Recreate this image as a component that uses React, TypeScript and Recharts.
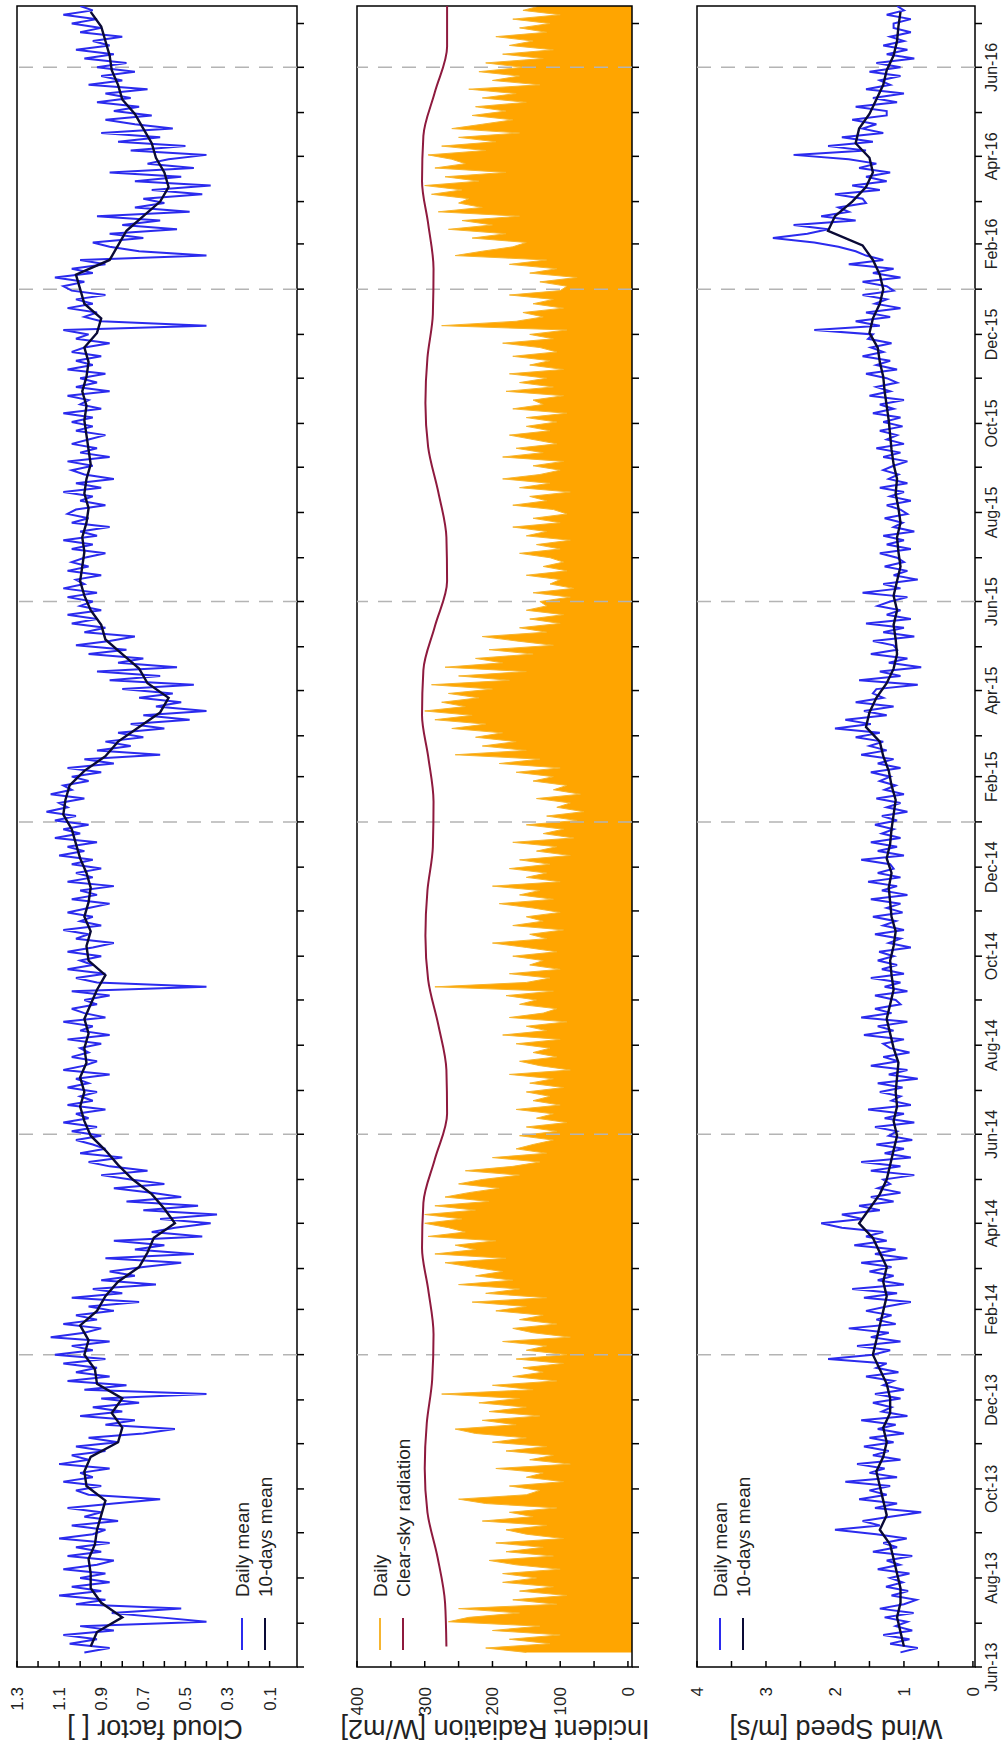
import React from "react";
import {
  ComposedChart,
  Line,
  Area,
  XAxis,
  YAxis,
  ReferenceLine,
  ReferenceArea,
} from "recharts";

// frame of the un-rotated figure (it is turned by 90 degrees at the end)
const W = 1758;
const H = 1004;
const DAY_END = 1138;
const PLOT_LEFT = 91;
const AXIS_W = 60;
const AXIS_H = 30;

// cloud factor, daily mean, one value every 3 days from 11 Jun 2013 (one row per month)
const cloudDaily = [
  0.98, 0.86, 1.05, 0.92, 1.08, 0.84, 1.0,
  0.4, 0.62, 0.85, 0.52, 1.02, 0.88, 1.1, 0.9, 1.04, 0.86,
  1.0, 0.88, 1.08, 0.92, 0.84, 1.06, 0.9, 1.02, 0.86, 1.1, 0.94,
  0.88, 1.04, 0.82, 0.98, 0.9, 1.06, 0.84, 0.62, 0.96, 1.02,
  0.9, 1.08, 0.94, 1.0, 0.86, 1.1, 0.96, 1.04, 0.88, 1.02,
  0.82, 0.96, 0.7, 0.55, 0.88, 0.74, 1.0, 0.8, 0.94, 0.72,
  0.9, 0.4, 0.98, 0.78, 1.06, 0.86, 1.02, 0.92, 1.08, 0.88,
  1.12, 0.94, 1.04, 0.86, 1.14, 0.98, 0.9, 1.08, 0.92, 1.02, 0.84,
  0.96, 0.72, 1.04, 0.8, 0.94, 0.64, 0.9, 0.74, 0.86,
  0.7, 0.52, 0.88, 0.46, 0.74, 0.6, 0.84, 0.42, 0.66, 0.55,
  0.38, 0.62, 0.35, 0.7, 0.44, 0.78, 0.52, 0.66, 0.84, 0.6,
  0.76, 0.9, 0.68, 0.86, 0.96, 0.8, 1.0, 0.88, 0.94, 1.02, 0.9,
  1.04, 0.92, 1.08, 0.96, 1.02, 0.88, 1.06, 0.94, 1.0, 0.92,
  1.06, 0.96, 1.02, 0.86, 1.08, 0.98, 0.92, 1.04, 0.96, 1.0,
  0.9, 1.06, 0.86, 1.0, 0.94, 1.08, 0.88, 0.98, 1.04, 0.92,
  0.98, 0.86, 1.04, 0.4, 0.92, 1.02, 0.88, 1.06, 0.94, 1.0,
  0.9, 1.06, 0.94, 0.84, 1.02, 0.96, 1.08, 0.9, 1.0, 0.94, 1.06,
  0.96, 0.86, 1.04, 0.92, 1.0, 0.84, 1.06, 0.94, 1.02, 0.9,
  1.04, 0.94, 1.1, 0.98, 1.06, 0.92, 1.12, 1.0, 1.08, 0.96,
  1.12, 1.02, 1.16, 1.06, 1.1, 0.98, 1.14, 1.04, 1.08, 0.96,
  1.04, 0.9, 1.06, 0.84, 0.98, 0.62, 0.92, 0.76, 0.88, 0.7,
  0.82, 0.6, 0.76, 0.48, 0.7, 0.4, 0.64, 0.52, 0.72, 0.56,
  0.8, 0.46, 0.86, 0.62, 0.92, 0.54, 0.82, 0.7, 0.96, 0.78,
  1.02, 0.86, 0.74, 0.98, 0.88, 1.04, 0.92, 1.06, 0.9, 1.0,
  0.94, 1.06, 0.92, 1.08, 0.98, 1.02, 0.9, 1.06, 0.96, 1.04,
  0.98, 0.88, 1.04, 0.94, 1.08, 0.92, 1.0, 0.86, 1.04, 0.96, 1.06,
  1.02, 0.88, 1.0, 0.94, 1.08, 0.9, 1.02, 0.84, 0.98, 1.04,
  0.94, 1.06, 0.86, 1.0, 0.92, 1.04, 0.96, 0.88, 1.02, 0.94,
  1.04, 0.94, 1.08, 0.9, 1.0, 0.96, 1.06, 0.86, 1.02, 0.92,
  1.0, 0.88, 1.06, 0.94, 1.02, 0.9, 1.04, 0.98, 0.86, 1.02,
  0.96, 1.08, 0.4, 0.9, 0.98, 0.92, 1.06, 0.94, 1.02, 0.88, 1.04,
  1.08, 0.98, 1.12, 0.94, 1.04, 0.88, 1.0, 0.4, 0.72, 0.86,
  0.94, 0.7, 0.86, 0.54, 0.8, 0.62, 0.92, 0.48, 0.74, 0.6,
  0.7, 0.42, 0.66, 0.38, 0.74, 0.52, 0.86, 0.46, 0.68, 0.58,
  0.4, 0.76, 0.5, 0.82, 0.62, 0.9, 0.56, 0.74, 0.88, 0.66,
  0.84, 0.72, 0.92, 0.76, 0.88, 0.68, 0.96, 0.8, 0.9, 0.74,
  0.92, 0.78, 0.98, 0.84, 1.02, 0.86, 0.94, 0.8, 1.0, 0.9,
  1.04, 0.92, 1.08, 0.94, 1.0,
];

// cloud factor, 10-days mean, one value every 10 days from 15 Jun 2013
const cloudMean = [
  0.95, 0.92,
  0.8, 0.9, 0.95,
  0.95, 0.96, 0.93,
  0.92, 0.9, 0.88,
  0.97, 0.98, 0.95,
  0.82, 0.8, 0.85,
  0.8, 0.92, 0.93,
  0.98, 0.96, 1.0, 0.92,
  0.88, 0.82,
  0.72, 0.68, 0.65,
  0.55, 0.6, 0.66,
  0.75, 0.82, 0.88, 0.95,
  0.98, 1.0, 0.98,
  1.0, 0.97, 0.98,
  0.96, 0.98, 0.95,
  0.92, 0.88, 0.96,
  0.97, 0.95, 0.98,
  0.96, 0.95, 0.97,
  1.0, 1.02, 1.04,
  1.08, 1.07, 1.05,
  0.98, 0.88, 0.82,
  0.72, 0.62, 0.58,
  0.68, 0.72, 0.8,
  0.88, 0.9, 0.95,
  0.98, 1.0, 0.99,
  0.98, 0.99, 0.97,
  0.96, 0.98, 0.97,
  0.95, 0.96, 0.97,
  0.98, 0.97, 0.99,
  0.97, 0.96, 0.98,
  0.92, 0.9, 0.98,
  1.0, 1.02, 0.86, 0.82,
  0.78, 0.7,
  0.62, 0.58, 0.6, 0.64,
  0.66, 0.7, 0.74,
  0.8, 0.82, 0.85,
  0.86, 0.88, 0.9,
  0.95,
];

// incident radiation [W/m2], daily, same 3-day steps as cloudDaily
const radDaily = [
  150, 210, 115, 175, 100, 200, 130,
  265, 235, 160, 250, 105, 170, 90, 160, 110, 185,
  135, 185, 100, 165, 205, 110, 180, 125, 195, 95, 150,
  180, 120, 215, 140, 175, 105, 210, 250, 150, 130,
  175, 95, 150, 125, 195, 85, 145, 110, 180, 120,
  200, 150, 225, 255, 165, 215, 130, 205, 150, 220,
  160, 275, 140, 200, 105, 170, 125, 155, 95, 165,
  90, 150, 120, 185, 85, 140, 170, 105, 160, 125, 195,
  150, 230, 120, 210, 160, 250, 170, 225, 185,
  230, 270, 180, 285, 225, 255, 195, 295, 240, 265,
  300, 245, 300, 225, 285, 205, 270, 235, 190, 250,
  215, 160, 240, 170, 130, 200, 120, 165, 140, 110, 160,
  105, 150, 90, 135, 110, 165, 100, 140, 115, 150,
  95, 145, 110, 175, 85, 130, 160, 105, 140, 115,
  165, 100, 185, 120, 150, 90, 175, 125, 105, 160,
  135, 180, 110, 285, 150, 115, 175, 100, 145, 125,
  170, 105, 150, 200, 120, 145, 95, 170, 125, 150, 100,
  140, 190, 110, 160, 130, 200, 100, 150, 120, 175,
  115, 160, 85, 135, 105, 170, 80, 125, 95, 150,
  75, 120, 65, 105, 85, 135, 70, 110, 90, 140,
  110, 165, 100, 190, 130, 255, 150, 215, 165, 225,
  185, 260, 210, 285, 230, 300, 240, 275, 220, 265,
  200, 290, 175, 250, 150, 270, 185, 225, 140, 205,
  110, 165, 215, 120, 160, 100, 145, 95, 150, 120,
  130, 85, 140, 80, 115, 100, 150, 90, 125, 95,
  115, 160, 100, 135, 85, 150, 120, 170, 100, 140, 90,
  110, 170, 120, 145, 85, 160, 115, 185, 130, 100,
  140, 95, 185, 125, 165, 105, 140, 175, 115, 150,
  105, 150, 90, 170, 125, 140, 95, 180, 110, 160,
  120, 175, 95, 145, 115, 170, 105, 130, 185, 110,
  145, 90, 275, 165, 125, 155, 95, 140, 110, 175, 100,
  90, 130, 75, 145, 105, 175, 120, 255, 215, 170,
  150, 230, 180, 265, 200, 245, 160, 280, 215, 250,
  235, 290, 245, 300, 220, 270, 180, 285, 240, 260,
  295, 210, 275, 195, 250, 160, 260, 215, 170, 230,
  180, 225, 150, 215, 165, 235, 130, 200, 160, 220,
  155, 210, 125, 185, 110, 175, 140, 195, 120, 160,
  115, 170, 100, 155, 130,
];

// clear-sky radiation [W/m2], mid-month values from Jun 2013
const clearSky = [
  268, 270, 281, 296, 300, 297, 289, 287, 295, 304, 302, 285,
  267, 268, 280, 295, 299, 296, 288, 287, 295, 304, 302, 285,
  267, 268, 280, 295, 299, 296, 288, 287, 295, 304, 302, 285,
  267, 267,
];

// wind speed [m/s], daily mean, same 3-day steps
const windDaily = [
  1.05, 0.8, 1.2, 0.92, 1.3, 0.88, 1.12,
  0.95, 1.28, 0.86, 1.35, 1.0, 0.82, 1.18, 0.94, 1.26, 1.02,
  1.2, 0.92, 1.38, 1.06, 1.25, 0.88, 1.45, 1.1, 1.3, 0.96, 1.4,
  2.0, 1.35, 1.6, 1.2, 0.75, 1.42, 1.1, 1.65, 1.25, 1.5,
  1.2, 1.85, 1.1, 1.5, 1.28, 1.68, 1.05, 1.45, 1.22, 1.58,
  1.15, 1.5, 1.0, 1.38, 1.12, 1.62, 0.95, 1.32, 1.18, 1.45,
  1.05, 1.42, 1.0, 1.3, 1.15, 1.55, 1.08, 1.4, 1.25, 2.1,
  1.45, 1.2, 1.68, 1.05, 1.48, 1.22, 1.8, 1.12, 1.4, 1.18, 1.55,
  1.25, 0.9, 1.58, 1.1, 1.75, 1.0, 1.38, 1.15, 1.5,
  1.18, 1.62, 0.95, 1.42, 1.12, 1.72, 1.25, 1.55, 1.3, 1.9,
  2.2, 1.6, 1.9, 1.35, 1.65, 1.15, 1.48, 1.05, 1.38, 1.2,
  1.3, 0.85, 1.48, 1.05, 1.62, 0.9, 1.28, 1.0, 1.4, 0.88, 1.22,
  1.1, 1.42, 0.85, 1.28, 1.0, 1.52, 0.9, 1.18, 1.05, 1.35,
  1.02, 1.38, 0.8, 1.22, 0.95, 1.48, 1.08, 1.3, 0.92, 1.2,
  1.3, 1.0, 1.58, 1.15, 1.38, 0.95, 1.62, 1.18, 1.42, 1.05,
  1.12, 1.42, 0.95, 1.28, 1.05, 1.48, 1.0, 1.32, 1.1, 1.38,
  1.15, 1.36, 0.9, 1.22, 1.05, 1.42, 1.0, 1.3, 1.12, 1.45, 1.02,
  1.25, 1.05, 1.48, 0.95, 1.32, 1.1, 1.52, 1.05, 1.38, 1.15,
  1.2, 1.62, 1.0, 1.38, 1.1, 1.48, 1.05, 1.32, 1.15, 1.42,
  1.1, 1.32, 0.95, 1.25, 1.05, 1.4, 1.0, 1.28, 1.12, 1.35,
  1.2, 1.48, 1.05, 1.38, 1.15, 1.62, 1.25, 1.5, 1.3, 1.7,
  1.35, 2.0, 1.48, 1.85, 1.25, 1.58, 1.15, 1.7, 1.3, 1.45,
  1.4, 0.8, 1.65, 1.05, 1.35, 0.75, 1.22, 0.95, 1.48, 1.1,
  1.15, 1.45, 0.85, 1.3, 1.0, 1.55, 0.9, 1.25, 1.05, 1.38,
  1.2, 0.95, 1.6, 1.05, 1.3, 0.8, 1.15, 0.95, 1.28, 1.0,
  1.1, 1.35, 0.9, 1.25, 1.0, 1.3, 0.85, 1.15, 1.02, 1.28, 0.95,
  1.05, 1.25, 0.9, 1.2, 1.0, 1.35, 0.95, 1.22, 1.08, 1.3,
  1.15, 0.95, 1.3, 1.05, 1.4, 1.0, 1.25, 1.1, 1.35, 1.02,
  1.3, 1.05, 1.45, 1.15, 1.35, 1.0, 1.5, 1.2, 1.4, 1.1,
  1.25, 1.55, 1.1, 1.4, 1.2, 1.6, 1.3, 1.48, 1.18, 1.52,
  1.45, 2.3, 1.35, 1.7, 1.2, 1.55, 1.05, 1.42, 1.25, 1.6, 1.15,
  1.25, 1.6, 1.05, 1.45, 1.15, 1.8, 1.3, 1.55, 1.7, 1.95,
  2.3, 2.9, 2.4, 2.1, 2.6, 1.7, 2.2, 1.8, 1.95, 1.55,
  1.6, 2.0, 1.35, 1.75, 1.25, 1.55, 1.2, 1.65, 1.4, 1.8,
  2.6, 1.55, 2.1, 1.45, 1.9, 1.3, 1.6, 1.4, 1.75, 1.25,
  1.25, 1.7, 1.1, 1.45, 1.0, 1.55, 1.2, 1.35, 1.05, 1.5,
  1.05, 1.4, 0.85, 1.25, 0.95, 1.3, 1.0, 1.2, 0.9, 1.15,
  1.15, 0.9, 1.25, 1.0, 1.1,
];

// wind speed [m/s], 10-days mean, same 10-day steps as cloudMean
const windMean = [
  1.0, 1.05,
  1.1, 1.05, 1.05,
  1.1, 1.15, 1.2,
  1.35, 1.25, 1.3,
  1.35, 1.4, 1.3,
  1.25, 1.3, 1.2,
  1.2, 1.25, 1.35,
  1.45, 1.4, 1.35, 1.3,
  1.25, 1.3,
  1.25, 1.35, 1.45,
  1.65, 1.5, 1.35,
  1.25, 1.2, 1.15, 1.1,
  1.15, 1.1, 1.12,
  1.1, 1.08, 1.15,
  1.2, 1.25, 1.2,
  1.15, 1.18, 1.2,
  1.15, 1.12, 1.18,
  1.2, 1.22, 1.18,
  1.25, 1.2, 1.18,
  1.15, 1.12, 1.18,
  1.22, 1.3, 1.35,
  1.55, 1.5, 1.4,
  1.25, 1.15, 1.1,
  1.12, 1.15, 1.1,
  1.15, 1.1, 1.05,
  1.08, 1.1, 1.05,
  1.08, 1.12, 1.1,
  1.15, 1.18, 1.2,
  1.22, 1.25, 1.28,
  1.3, 1.35, 1.38,
  1.5, 1.45, 1.35,
  1.3, 1.35, 1.45, 1.6,
  2.1, 2.0,
  1.75, 1.55, 1.45, 1.5,
  1.7, 1.65, 1.5,
  1.4, 1.3, 1.25,
  1.15, 1.1, 1.08,
  1.05,
];

const timeLabels = [
  "Jun-13", "Aug-13", "Oct-13", "Dec-13", "Feb-14", "Apr-14", "Jun-14",
  "Aug-14", "Oct-14", "Dec-14", "Feb-15", "Apr-15", "Jun-15", "Aug-15",
  "Oct-15", "Dec-15", "Feb-16", "Apr-16", "Jun-16",
];

// dashed season marks (year, month index)
const seasonMarks = [
  [2014, 0], [2014, 5], [2015, 0], [2015, 5], [2016, 0], [2016, 5],
];

const cloudTicks = [0.1, 0.2, 0.3, 0.4, 0.5, 0.6, 0.7, 0.8, 0.9, 1.0, 1.1, 1.2, 1.3];
const radTicks = [0, 50, 100, 150, 200, 250, 300, 350, 400];
const windTicks = [0, 0.5, 1, 1.5, 2, 2.5, 3, 3.5, 4];

const DAY_MS = 86400000;
const dayOf = (y: number, m: number, d = 1) =>
  (Date.UTC(y, m, d) - Date.UTC(2013, 5, 1)) / DAY_MS;

const monthTicks = Array.from({ length: 38 }, (_, k) => dayOf(2013, 5 + k));
const dailyDays = cloudDaily.map((_, i) => 10 + 3 * i);
const meanDays = cloudMean.map((_, i) => 14 + 10 * i);
const clearDays = clearSky.map((_, k) => dayOf(2013, 5 + k, 15));
const markDays = seasonMarks.map(([y, m]) => dayOf(y, m));

const toRows = (days: number[], vals: number[]) =>
  vals.map((v, i) => ({ day: days[i], v }));

const BLUE = "#2b2bee";
const NAVY = "#0a0a36";
const ORANGE = "#ffa500";
const ORANGE_LINE = "#f6b530";
const MAROON = "#8e1a3e";

function TimeTick(props: any) {
  const { x, y, payload, showLabel } = props;
  const k = monthTicks.indexOf(payload.value);
  return (
    <g>
      <line x1={x} x2={x} y1={y} y2={y + 7} stroke="#000" strokeWidth={1.5} />
      {showLabel && k % 2 === 0 && (
        <text x={x} y={y + 22} textAnchor="middle" fontSize={16} fill="#222">
          {timeLabels[k / 2]}
        </text>
      )}
    </g>
  );
}

function ValueTick(props: any) {
  const { x, y, payload, isMajor, fmt } = props;
  const v = payload.value;
  return (
    <g>
      <line x1={x} x2={x + 6} y1={y} y2={y} stroke="#000" strokeWidth={1.5} />
      {isMajor(v) && (
        <text x={x - 20} y={y} dy="0.35em" textAnchor="end" fontSize={17} fill="#222">
          {fmt(v)}
        </text>
      )}
    </g>
  );
}

type PanelProps = {
  top: number;
  bottom: number;
  domain: [number, number];
  ticks: number[];
  isMajor: (v: number) => boolean;
  fmt: (v: number) => string;
  showTimeLabels?: boolean;
  children: React.ReactNode;
};

function Panel({ top, bottom, domain, ticks, isMajor, fmt, showTimeLabels, children }: PanelProps) {
  return (
    <div style={{ position: "absolute", left: 0, top: 0 }}>
      <ComposedChart
        width={W}
        height={H}
        margin={{ top, bottom: H - bottom - AXIS_H, left: PLOT_LEFT - AXIS_W, right: 6 }}
      >
        <XAxis
          type="number"
          dataKey="day"
          domain={[0, DAY_END]}
          allowDataOverflow
          ticks={monthTicks}
          interval={0}
          height={AXIS_H}
          tickSize={0}
          tickMargin={0}
          axisLine={false}
          tickLine={false}
          tick={(p: any) => <TimeTick {...p} showLabel={showTimeLabels} />}
        />
        <YAxis
          type="number"
          domain={domain}
          allowDataOverflow
          ticks={ticks}
          interval={0}
          width={AXIS_W}
          tickSize={0}
          tickMargin={0}
          axisLine={false}
          tickLine={false}
          tick={(p: any) => <ValueTick {...p} isMajor={isMajor} fmt={fmt} />}
        />
        {markDays.map((d) => (
          <ReferenceLine key={d} x={d} stroke="#b4b4b4" strokeWidth={1.5} strokeDasharray="14 10" />
        ))}
        {children}
        <ReferenceArea
          x1={0}
          x2={DAY_END}
          y1={domain[0]}
          y2={domain[1]}
          fill="none"
          stroke="#000"
          strokeWidth={1.5}
          fillOpacity={0}
        />
      </ComposedChart>
    </div>
  );
}

function LegendBox({ y, items }: { y: number; items: { label: string; color: string }[] }) {
  return (
    <g>
      {items.map((it, i) => (
        <g key={it.label}>
          <line x1={108} x2={140} y1={y + i * 23} y2={y + i * 23} stroke={it.color} strokeWidth={2} />
          <text x={161} y={y + i * 23} dy="0.35em" fontSize={19} fill="#222">
            {it.label}
          </text>
        </g>
      ))}
    </g>
  );
}

function Title({ y, text }: { y: number; text: string }) {
  return (
    <text
      x={29}
      y={y}
      dy="0.35em"
      textAnchor="middle"
      fontSize={27}
      fill="#222"
      transform={`rotate(-90, 29, ${y})`}
    >
      {text}
    </text>
  );
}

export default function App() {
  const odd = (v: number) => Math.round(v * 10) % 2 === 1;
  return (
    <div
      style={{
        position: "absolute",
        left: 0,
        top: 0,
        width: 1004,
        height: 1758,
        overflow: "hidden",
        background: "#fff",
      }}
    >
      <div
        style={{
          position: "absolute",
          left: 0,
          top: 0,
          width: W,
          height: H,
          transformOrigin: "0 0",
          transform: `translateY(${W}px) rotate(-90deg)`,
          fontFamily: '"Liberation Sans", Arial, sans-serif',
        }}
      >
        <Panel top={17} bottom={297} domain={[-0.03, 1.3]} ticks={cloudTicks} isMajor={odd} fmt={(v) => v.toFixed(1)}>
          <Line data={toRows(dailyDays, cloudDaily)} dataKey="v" stroke={BLUE} strokeWidth={2} dot={false} isAnimationActive={false} />
          <Line data={toRows(meanDays, cloudMean)} dataKey="v" stroke={NAVY} strokeWidth={2.4} dot={false} isAnimationActive={false} />
        </Panel>
        <Panel top={357} bottom={632} domain={[-6, 400]} ticks={radTicks} isMajor={(v) => v % 100 === 0} fmt={(v) => String(v)}>
          <Area data={toRows(dailyDays, radDaily)} dataKey="v" type="linear" baseValue={-6} fill={ORANGE} fillOpacity={1} stroke={ORANGE_LINE} strokeWidth={1} isAnimationActive={false} />
          <Line data={toRows(clearDays, clearSky)} dataKey="v" type="monotone" stroke={MAROON} strokeWidth={2} dot={false} isAnimationActive={false} />
        </Panel>
        <Panel top={697} bottom={975} domain={[-0.03, 4]} ticks={windTicks} isMajor={(v) => Number.isInteger(v)} fmt={(v) => String(v)} showTimeLabels>
          <Line data={toRows(dailyDays, windDaily)} dataKey="v" stroke={BLUE} strokeWidth={2} dot={false} isAnimationActive={false} />
          <Line data={toRows(meanDays, windMean)} dataKey="v" stroke={NAVY} strokeWidth={2.4} dot={false} isAnimationActive={false} />
        </Panel>
        <svg width={W} height={H} style={{ position: "absolute", left: 0, top: 0, pointerEvents: "none" }}>
          <Title y={155} text="Cloud factor [ ]" />
          <Title y={495} text="Incident Radiation [W/m2]" />
          <Title y={836} text="Wind Speed [m/s]" />
          <LegendBox y={242} items={[{ label: "Daily mean", color: BLUE }, { label: "10-days mean", color: NAVY }]} />
          <LegendBox y={380} items={[{ label: "Daily", color: ORANGE_LINE }, { label: "Clear-sky radiation", color: MAROON }]} />
          <LegendBox y={720} items={[{ label: "Daily mean", color: BLUE }, { label: "10-days mean", color: NAVY }]} />
        </svg>
      </div>
    </div>
  );
}
